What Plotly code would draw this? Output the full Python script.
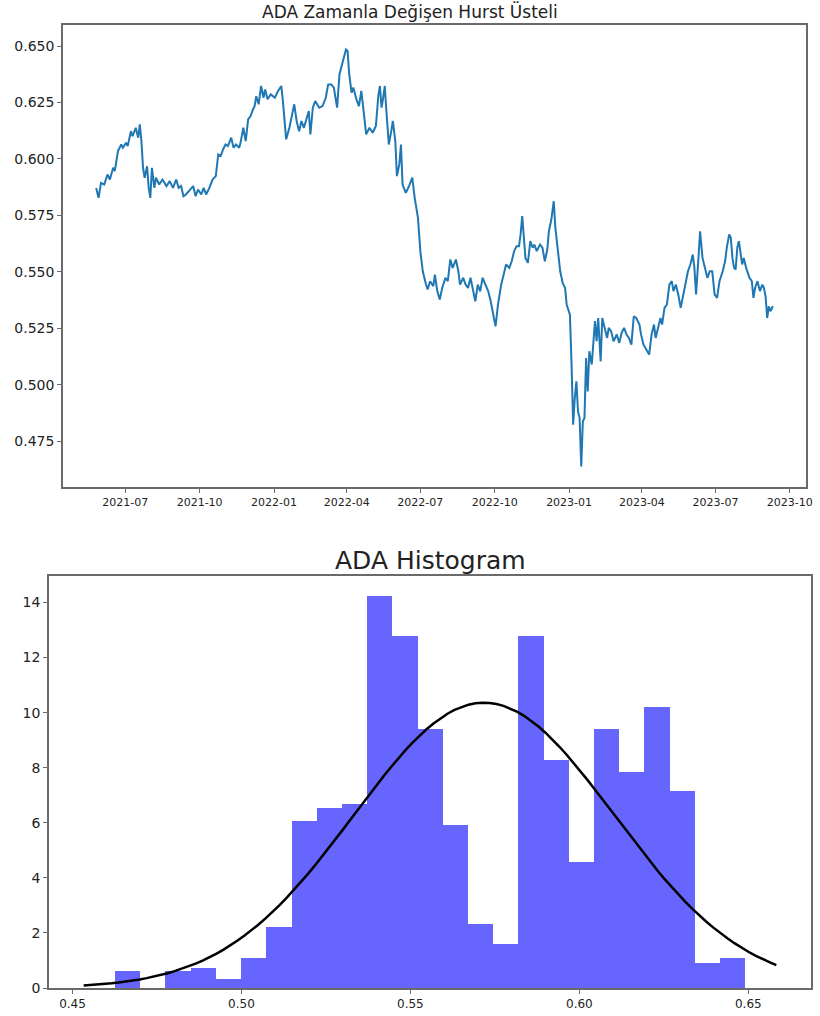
import numpy as np
import pandas as pd
import plotly.graph_objects as go

# ---------------- Data: Hurst exponent over time ----------------
start_date = "2021-05-26"

days_a = [0,3,6,10,14,17,21,23,27,31,33,37,39,43,45,49,52,54,56,58,60,63,65,67,69,72,74,78,82,87,
          91,95,99,102,105,108,111,115,120,123,126,130,133,136,140,144,148,151,154,157,160,163,167,170,173,
          177,179,182,185,188,191,194,196,198,201]
hurst_a = [.5872,.5828,.5894,.5887,.5931,.5909,.5961,.5946,.6035,.6064,.6050,.6072,.6057,.6123,.6101,
           .6138,.6094,.6153,.6079,.5961,.5917,.5968,.5872,.5828,.5961,.5872,.5917,.5887,.5909,.5880,
           .5902,.5872,.5909,.5872,.5880,.5835,.5843,.5858,.5880,.5835,.5865,.5843,.5872,.5843,.5872,
           .5909,.5924,.6020,.6013,.6042,.6064,.6057,.6094,.6050,.6064,.6050,.6079,.6138,.6079,.6175,
           .6190,.6219,.6234,.6278,.6242]

days_b = [204,207,209,212,216,221,225,229,231,235,239,243,245,248,251,254,257,260,263,265,268,271,276,280,284,
          287,291,294,298,301,305,309,311,313,316,318,322,325,328,331,334,338,342,346,349,351,353,355,357,359,
          362,365,367,370,372,375,377,379]
hurst_b = [.6323,.6271,.6308,.6264,.6286,.6271,.6301,.6323,.6256,.6087,.6138,.6205,.6242,.6168,.6123,
           .6168,.6138,.6175,.6212,.6109,.6227,.6256,.6227,.6234,.6271,.6330,.6330,.6316,.6227,.6375,
           .6434,.6485,.6478,.6375,.6293,.6316,.6264,.6234,.6301,.6212,.6109,.6138,.6116,.6146,.6279,
           .6323,.6227,.6271,.6323,.6212,.6064,.6123,.6168,.6079,.5924,.5976,.6064,.5887]

days_c = [383,387,391,394,398,401,404,408,410,413,417,419,422,425,428,432,435,438,441,445,448,450,454,457,460,
          463,466,469,472,475,478,482,485,488,491,494,497,501,504,507,511,514,517,520,523,525,527,529,531,534,
          537,540,542,545,549,552,555,558,560,563,566,568,571,574,577,580,582,586,588,590,592,594,596,598,600,
          602,604,606,608,610,613]
hurst_c = [.5850,.5880,.5917,.5828,.5740,.5592,.5503,.5444,.5422,.5459,.5437,.5488,.5414,.5378,.5429,
           .5474,.5459,.5555,.5518,.5555,.5503,.5444,.5474,.5444,.5429,.5474,.5414,.5370,.5444,.5414,
           .5474,.5444,.5414,.5370,.5311,.5259,.5355,.5444,.5488,.5533,.5518,.5547,.5592,.5614,.5614,
           .5666,.5747,.5651,.5562,.5540,.5636,.5607,.5621,.5592,.5621,.5607,.5547,.5599,.5680,.5732,
           .5813,.5695,.5592,.5503,.5451,.5429,.5355,.5311,.5090,.4824,.4942,.5016,.4883,.4853,.4639,
           .4839,.4853,.5119,.4971,.5149,.5090]

days_d = [617,619,621,624,626,629,632,634,637,640,644,647,650,653,656,659,662,665,668,672,674,677,681,684,687,
          690,692,695,698,700,703,706,709,712,714,717,720,723,726,729,732,735,738,740,742,745,747,750,753,756,
          759,762,765,768,771,775,778,780,783,785,787,789,791,793,795,797,799,801,804,808,811,813,815,818,821,
          824,826,828,830,832,834,837]
hurst_d = [.5282,.5193,.5296,.5104,.5296,.5252,.5208,.5252,.5237,.5193,.5223,.5186,.5230,.5252,.5223,
           .5208,.5178,.5304,.5296,.5267,.5223,.5178,.5156,.5134,.5223,.5267,.5208,.5252,.5296,.5267,
           .5341,.5356,.5444,.5459,.5415,.5444,.5400,.5341,.5400,.5444,.5503,.5533,.5577,.5518,.5400,
           .5562,.5680,.5562,.5518,.5474,.5503,.5503,.5400,.5385,.5459,.5503,.5548,.5607,.5666,.5651,
           .5562,.5518,.5511,.5607,.5636,.5584,.5533,.5562,.5518,.5474,.5459,.5385,.5429,.5459,.5415,
           .5444,.5429,.5392,.5296,.5348,.5326,.5348]

date_ticks = ["2021-07-01","2021-10-01","2022-01-01","2022-04-01","2022-07-01",
              "2022-10-01","2023-01-01","2023-04-01","2023-07-01","2023-10-01"]
hurst_ticks = [0.475, 0.500, 0.525, 0.550, 0.575, 0.600, 0.625, 0.650]

# ---------------- Data: histogram (density per bin) ----------------
bin_start = 0.4626
bin_width = 0.00746
density = [0.63, 0.0, 0.63, 0.75, 0.33, 1.09, 2.22, 6.08, 6.55, 6.70, 14.27, 12.81, 9.43,
           5.92, 2.36, 1.60, 12.79, 8.30, 4.60, 9.43, 7.88, 10.24, 7.19, 0.91, 1.09]
fit_mu = 0.5718
fit_sigma = 0.0385
fit_xmin, fit_xmax = 0.4533, 0.6583
hist_xticks = [0.45, 0.50, 0.55, 0.60, 0.65]
hist_yticks = [0, 2, 4, 6, 8, 10, 12, 14]

# ---------------- Build ----------------
days = days_a + days_b + days_c + days_d
hurst = hurst_a + hurst_b + hurst_c + hurst_d
dates = pd.Timestamp(start_date) + pd.to_timedelta(days, unit="D")

centers = [bin_start + bin_width * (i + 0.5) for i in range(len(density))]
fx = np.linspace(fit_xmin, fit_xmax, 100)
fy = np.exp(-0.5 * ((fx - fit_mu) / fit_sigma) ** 2) / (fit_sigma * np.sqrt(2 * np.pi))

W, H = 820, 1016
FONT = "DejaVu Sans"
FRAME = "#6a6a6a"

fig = go.Figure()
fig.add_trace(go.Scatter(x=dates, y=hurst, mode="lines",
                         line=dict(color="#1f77b4", width=2),
                         xaxis="x", yaxis="y", showlegend=False))
fig.add_trace(go.Bar(x=centers, y=density, width=bin_width,
                     marker=dict(color="rgba(0,0,255,0.6)", line=dict(width=0)),
                     xaxis="x2", yaxis="y2", showlegend=False))
fig.add_trace(go.Scatter(x=fx, y=fy, mode="lines",
                         line=dict(color="black", width=2.5),
                         xaxis="x2", yaxis="y2", showlegend=False))

def px_x(a, b):
    return [a / W, b / W]

def px_y(top, bottom):
    return [1 - bottom / H, 1 - top / H]

axis_common = dict(showline=True, mirror=True, linecolor=FRAME, linewidth=1.5,
                   ticks="outside", ticklen=4, tickcolor=FRAME, tickwidth=1,
                   showgrid=False, zeroline=False, automargin=False)

fig.update_layout(
    width=W, height=H,
    margin=dict(l=0, r=0, t=0, b=0),
    paper_bgcolor="white", plot_bgcolor="white",
    font=dict(family=FONT, color="#222"),
    bargap=0,
    xaxis=dict(domain=px_x(63, 806), anchor="y", type="date",
               range=["2021-04-15", "2023-10-21"],
               tickvals=date_ticks, tickformat="%Y-%m",
               tickfont=dict(size=11, family=FONT), **axis_common),
    yaxis=dict(domain=px_y(25, 487), anchor="x",
               range=[0.4548, 0.6593], tickvals=hurst_ticks, tickformat=".3f",
               tickfont=dict(size=14, family=FONT), **axis_common),
    xaxis2=dict(domain=px_x(49, 811), anchor="y2",
                range=[0.44305, 0.66855], tickvals=hist_xticks, tickformat=".2f",
                tickfont=dict(size=12, family=FONT), **axis_common),
    yaxis2=dict(domain=px_y(575.5, 988), anchor="x2",
                range=[0, 14.98], tickvals=hist_yticks,
                tickfont=dict(size=14, family=FONT), **axis_common),
    annotations=[
        dict(text="ADA Zamanla Değişen Hurst Üsteli", xref="paper", yref="paper",
             x=410 / W, y=1 - 12 / H, showarrow=False, xanchor="center", yanchor="middle",
             font=dict(size=17, family=FONT, color="#222")),
        dict(text="ADA Histogram", xref="paper", yref="paper",
             x=430 / W, y=1 - 560 / H, showarrow=False, xanchor="center", yanchor="middle",
             font=dict(size=25, family=FONT, color="#222")),
    ],
)

fig.write_html("out.html", config={"displayModeBar": False},
               post_script="document.body.style.margin='0';document.body.style.overflow='hidden';")
